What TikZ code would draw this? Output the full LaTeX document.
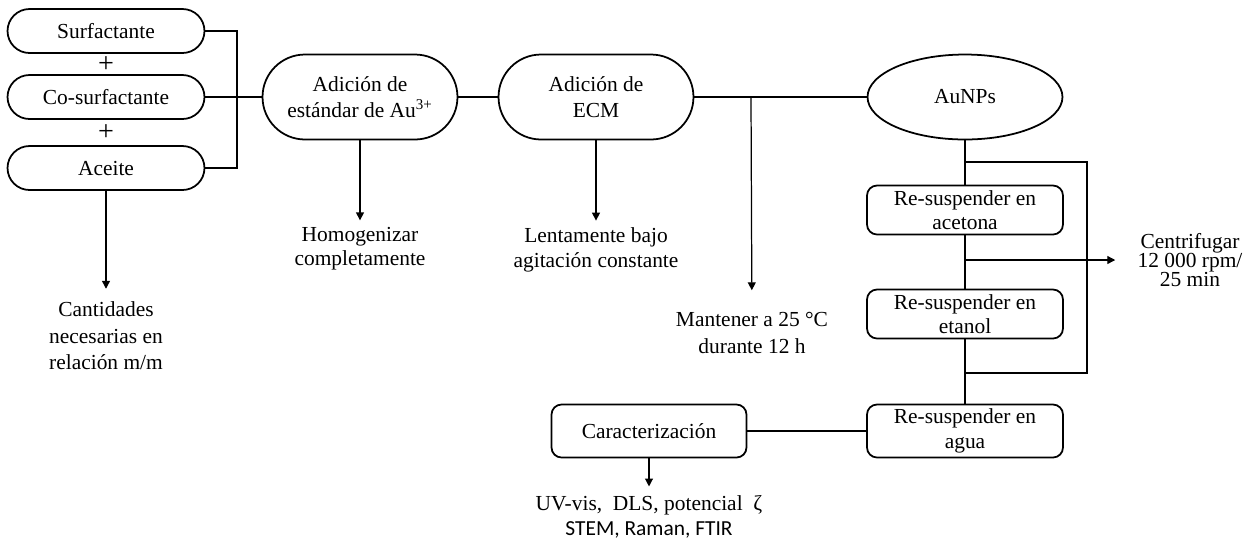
\documentclass[tikz,border=0pt]{standalone}
\usepackage{fontspec}
\setmainfont{Liberation Serif}
\newfontfamily\calibri{Carlito}
\usetikzlibrary{shapes.geometric, arrows.meta, positioning}

\begin{document}
\begin{tikzpicture}[x=0.02cm, y=-0.02cm,
        font=\fontsize{12.2}{15}\selectfont,
        pill/.style={rectangle, draw, line width=1pt, minimum width=3.94cm, minimum height=0.88cm, rounded corners=0.44cm, inner sep=0pt},
        bigpill/.style={rectangle, draw, line width=1pt, minimum width=3.9cm, minimum height=1.7cm, rounded corners=0.85cm, inner sep=0pt, align=center},
        oval/.style={ellipse, draw, line width=1pt, minimum width=3.9cm, minimum height=1.7cm, inner sep=0pt},
        roundbox/.style={rectangle, draw, line width=1pt, minimum width=3.92cm, minimum height=0.98cm, rounded corners=0.2cm, inner sep=0pt, align=center, font=\fontsize{12.2}{14}\selectfont},
        note/.style={align=center, inner xsep=0pt},
        line/.style={line width=0.7pt},
        arrow/.style={line, -{Triangle[width=4.5pt,length=4.5pt]}}
    ]
        \useasboundingbox (0,0) rectangle (1254,539);
        % left column
        \node[pill] (surf) at (106,31) {Surfactante};
        \node[font=\fontsize{16}{16}\selectfont] (plusa) at (106,65) {+};
        \node[pill] (cosurf) at (106,97) {Co-surfactante};
        \node[font=\fontsize{16}{16}\selectfont] (plusb) at (106,133) {+};
        \node[pill] (aceite) at (106,168) {Aceite};
        \node[note, inner ysep=0.26cm] (cant) at (106,336) {Cantidades\\necesarias en\\relación m/m};
        % main row
        \node[bigpill] (adic) at (360,97) {Adición de\\estándar de Au\textsuperscript{3+}};
        \node[bigpill] (ecm) at (596,97) {Adición de\\ECM};
        \node[oval] (aunps) at (965,97) {AuNPs};
        \node[note, inner ysep=0.14cm, font=\fontsize{12.2}{13.6}\selectfont] (homog) at (360,249) {Homogenizar\\completamente};
        \node[note, inner ysep=0.14cm, font=\fontsize{12.2}{14}\selectfont] (lenta) at (596,250) {Lentamente bajo\\agitación constante};
        \node[note, inner ysep=0.44cm] (mant) at (752,333) {Mantener a 25 °C\\durante 12 h};
        % washing column
        \node[roundbox] (acet) at (965,210) {Re-suspender en\\acetona};
        \node[roundbox] (etan) at (965,314) {Re-suspender en\\etanol};
        \node[roundbox, minimum height=1.06cm] (agua) at (965,431) {Re-suspender en\\agua};
        \node[note, inner xsep=0.44cm, font=\fontsize{12.2}{11}\selectfont] (centri) at (1190,260) {Centrifugar\\12 000 rpm/\\25 min};
        \node[roundbox, minimum width=3.9cm, minimum height=1.06cm] (carac) at (649,431) {Caracterización};
        \node[note, inner ysep=0.18cm, font=\fontsize{12.2}{14}\selectfont] (uvvis) at (649,517) {UV-vis,\ \ DLS, potencial\ \ ζ\\{\calibri STEM, Raman, FTIR}};
        % junctions
        \coordinate (jmix) at (237,97);
        \coordinate (jmant) at (751,97);
        \coordinate (ltop) at (965,162);
        \coordinate (rtop) at (1087,162);
        \coordinate (rbot) at (1087,373);
        \coordinate (lbot) at (965,373);
        \coordinate (jcen) at (965,260);
        % connectors
        \draw[line] (surf) -| (jmix) |- (aceite);
        \draw[line] (cosurf) -- (adic);
        \draw[line] (adic) -- (ecm);
        \draw[line] (ecm) -- (aunps);
        \draw[arrow] (aceite) -- (cant);
        \draw[arrow] (adic) -- (homog);
        \draw[arrow] (ecm) -- (lenta);
        \draw[arrow] (jmant) -- (mant);
        \draw[line] (aunps) -- (acet);
        \draw[line] (ltop) -- (rtop) -- (rbot) -- (lbot);
        \draw[line] (acet) -- (etan);
        \draw[line] (etan) -- (agua);
        \draw[arrow] (jcen) -- (centri);
        \draw[line] (agua) -- (carac);
        \draw[arrow] (carac) -- (uvvis);
    \end{tikzpicture}
\end{document}
